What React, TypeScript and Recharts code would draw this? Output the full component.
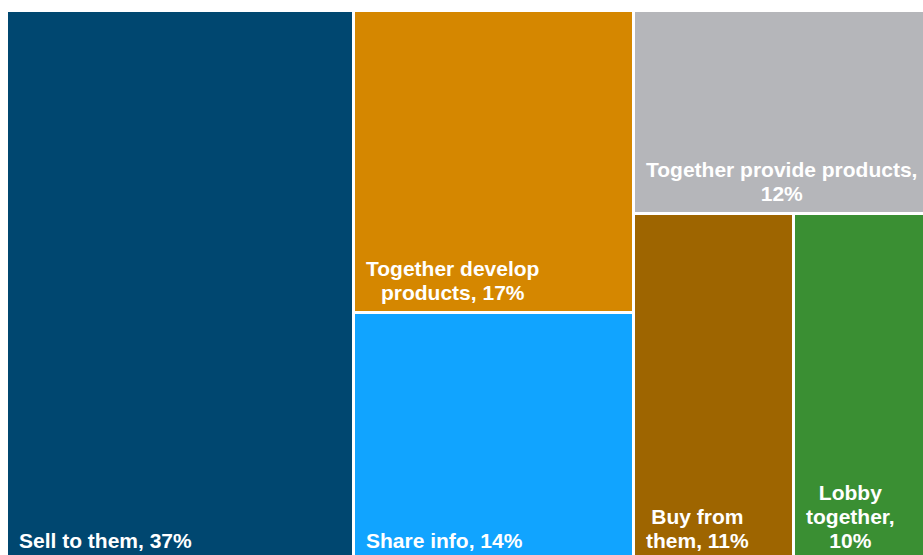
import React from "react";
import { Treemap } from "recharts";

// categories and shares (tile areas; labels show rounded %)
const categories = [
  "Sell to them",
  "Together develop products",
  "Share info",
  "Together provide products",
  "Buy from them",
  "Lobby together",
];
const shares = [37.4, 16.6, 13.6, 11.9, 10.9, 9.5];
const colors = ["#004770", "#D58700", "#11A4FF", "#B5B6BA", "#9E6500", "#3A8F33"];

const data = categories.map((name, i) => ({ name, value: shares[i] }));

const FONT_SIZE = 21;
const LINE_H = 24;
const FONT = `bold ${FONT_SIZE}px "Liberation Sans", Arial, sans-serif`;

let ctx: CanvasRenderingContext2D | null = null;
const textWidth = (s: string) => {
  if (!ctx) ctx = document.createElement("canvas").getContext("2d");
  if (!ctx) return s.length * FONT_SIZE * 0.55;
  ctx.font = FONT;
  return ctx.measureText(s).width;
};

// simple word wrap
const wrap = (text: string, maxW: number) => {
  const words = text.split(" ");
  const lines: string[] = [];
  let cur = "";
  words.forEach((w) => {
    const test = cur ? cur + " " + w : w;
    if (cur && textWidth(test) > maxW) {
      lines.push(cur);
      cur = w;
    } else {
      cur = test;
    }
  });
  if (cur) lines.push(cur);
  return lines;
};

const Tile = (props: any) => {
  const { x, y, width, height, depth, name, value } = props;
  if (depth !== 1) return <g />;
  const idx = categories.indexOf(name);
  const label = `${name}, ${Math.round(value)}%`;
  const lines = wrap(label, width - 20);
  const blockW = Math.max(...lines.map(textWidth));
  const cx = x + 13 + blockW / 2;
  const lastBase = y + height - 12;
  return (
    <g>
      <rect
        x={x + 2}
        y={y + 2}
        width={width - 3}
        height={height - 3}
        fill={colors[idx]}
      />
      {lines.map((ln, i) => (
        <text
          key={i}
          x={cx}
          y={lastBase - (lines.length - 1 - i) * LINE_H}
          textAnchor="middle"
          fill="#FFFFFF"
          fontFamily='"Liberation Sans", Arial, sans-serif'
          fontWeight="bold"
          fontSize={FONT_SIZE}
        >
          {ln}
        </text>
      ))}
    </g>
  );
};

export default function App() {
  return (
    <div
      style={{
        position: "fixed",
        left: 0,
        top: 0,
        width: 923,
        height: 555,
        overflow: "hidden",
        background: "#fff",
      }}
    >
      <div style={{ position: "absolute", left: 6, top: 10 }}>
        <Treemap
          width={926}
          height={550}
          data={data}
          dataKey="value"
          nameKey="name"
          aspectRatio={1.3}
          stroke="none"
          isAnimationActive={false}
          content={<Tile />}
        />
      </div>
    </div>
  );
}
